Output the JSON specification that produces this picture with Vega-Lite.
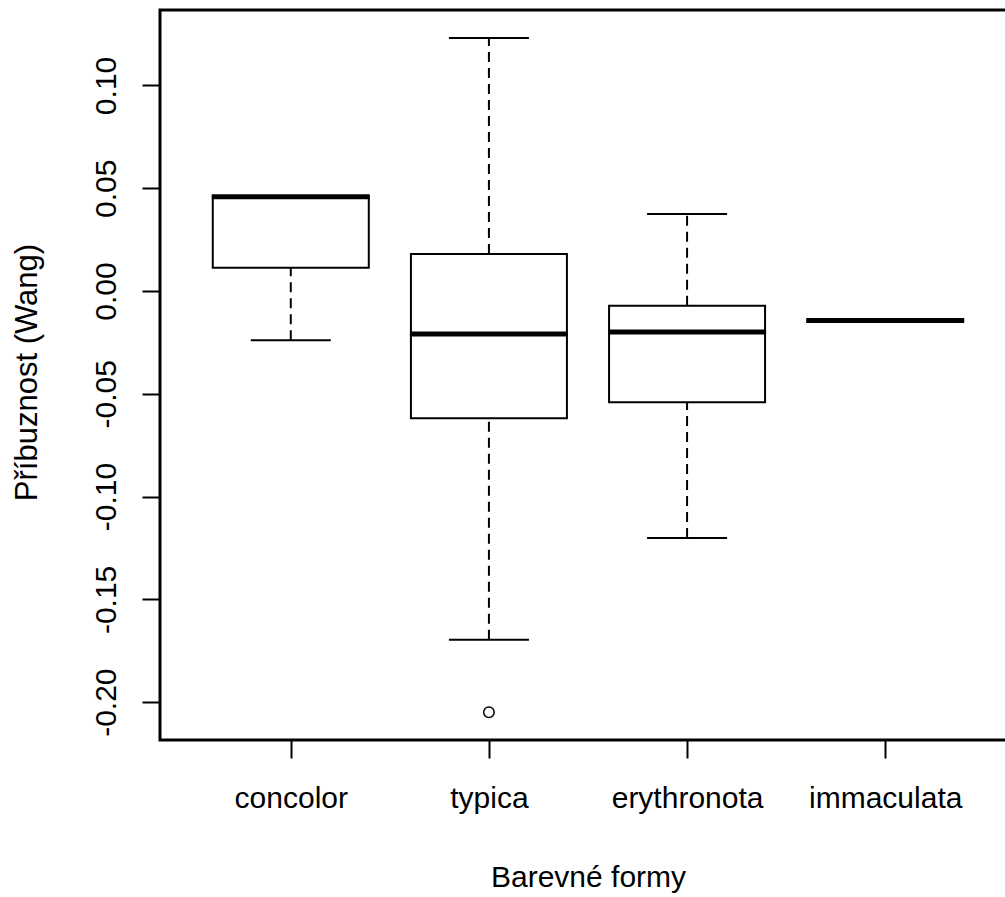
{
  "$schema": "https://vega.github.io/schema/vega-lite/v6.json",
  "width": 856,
  "height": 730,
  "autosize": {"type": "none"},
  "padding": {"left": 160, "top": 10, "right": 0, "bottom": 157},
  "background": "white",
  "config": {
    "view": {"stroke": "black", "strokeWidth": 3},
    "font": "Liberation Sans",
    "axis": {
      "grid": false,
      "domainColor": "black",
      "tickColor": "black",
      "labelColor": "black",
      "titleColor": "black",
      "labelFont": "Liberation Sans",
      "titleFont": "Liberation Sans",
      "titleFontWeight": "normal",
      "domain": false,
      "tickWidth": 2,
      "tickSize": 18
    }
  },
  "datasets": {
    "stats": [
      {"form": "concolor", "lower": -0.0240, "q1": 0.0113, "median": 0.0459, "q3": 0.0459, "upper": 0.0459},
      {"form": "typica", "lower": -0.1696, "q1": -0.0619, "median": -0.0209, "q3": 0.0180, "upper": 0.1231},
      {"form": "erythronota", "lower": -0.1202, "q1": -0.0541, "median": -0.0199, "q3": -0.0072, "upper": 0.0375},
      {"form": "immaculata", "lower": -0.0143, "q1": -0.0143, "median": -0.0143, "q3": -0.0143, "upper": -0.0143}
    ],
    "outliers": [
      {"form": "typica", "value": -0.2049}
    ]
  },
  "data": {"name": "stats"},
  "layer": [
    {
      "mark": {"type": "rule", "color": "black", "strokeWidth": 2, "strokeDash": [10, 6], "opacity": 1},
      "encoding": {
        "x": {
          "field": "form", "type": "nominal",
          "sort": ["concolor", "typica", "erythronota", "immaculata"],
          "scale": {"type": "point", "padding": 0.66},
          "title": "Barevné formy",
          "axis": {
            "labelAngle": 0,
            "labelFontSize": 30,
            "labelBaseline": "alphabetic",
            "labelPadding": 49,
            "titleFontSize": 30,
            "titleY": 146.7,
            "titleBaseline": "alphabetic"
          }
        },
        "y": {
          "field": "lower", "type": "quantitative",
          "title": "Příbuznost (Wang)",
          "scale": {"domain": [-0.2184, 0.1367], "nice": false, "zero": false},
          "axis": {
            "values": [-0.2, -0.15, -0.1, -0.05, 0, 0.05, 0.1],
            "labelExpr": "replace(format(datum.value, '.2f'), '\u2212', '-')",
            "labelAngle": 270,
            "labelAlign": "center",
            "labelBaseline": "alphabetic",
            "labelPadding": 27,
            "labelFontSize": 30,
            "titleFontSize": 31,
            "titleAngle": 270,
            "titleX": -123.3,
            "titleY": 362,
            "titleAlign": "center",
            "titleBaseline": "alphabetic"
          }
        },
        "y2": {"field": "q1"}
      }
    },
    {
      "mark": {"type": "rule", "color": "black", "strokeWidth": 2, "strokeDash": [10, 6], "opacity": 1},
      "encoding": {
        "x": {"field": "form", "type": "nominal", "sort": ["concolor", "typica", "erythronota", "immaculata"]},
        "y": {"field": "q3", "type": "quantitative"},
        "y2": {"field": "upper"}
      }
    },
    {
      "mark": {"type": "tick", "color": "black", "size": 80, "thickness": 2, "opacity": 1},
      "encoding": {
        "x": {"field": "form", "type": "nominal", "sort": ["concolor", "typica", "erythronota", "immaculata"]},
        "y": {"field": "lower", "type": "quantitative"}
      }
    },
    {
      "mark": {"type": "tick", "color": "black", "size": 80, "thickness": 2, "opacity": 1},
      "encoding": {
        "x": {"field": "form", "type": "nominal", "sort": ["concolor", "typica", "erythronota", "immaculata"]},
        "y": {"field": "upper", "type": "quantitative"}
      }
    },
    {
      "mark": {"type": "bar", "fill": "white", "stroke": "black", "strokeWidth": 2, "size": 156, "opacity": 1},
      "encoding": {
        "x": {"field": "form", "type": "nominal", "sort": ["concolor", "typica", "erythronota", "immaculata"]},
        "y": {"field": "q1", "type": "quantitative"},
        "y2": {"field": "q3"}
      }
    },
    {
      "mark": {"type": "tick", "color": "black", "size": 158, "thickness": 5, "opacity": 1},
      "encoding": {
        "x": {"field": "form", "type": "nominal", "sort": ["concolor", "typica", "erythronota", "immaculata"]},
        "y": {"field": "median", "type": "quantitative"}
      }
    },
    {
      "data": {"name": "outliers"},
      "mark": {"type": "point", "shape": "circle", "filled": false, "color": "black", "size": 110, "strokeWidth": 1.5, "opacity": 1},
      "encoding": {
        "x": {"field": "form", "type": "nominal", "sort": ["concolor", "typica", "erythronota", "immaculata"]},
        "y": {"field": "value", "type": "quantitative"}
      }
    }
  ]
}
